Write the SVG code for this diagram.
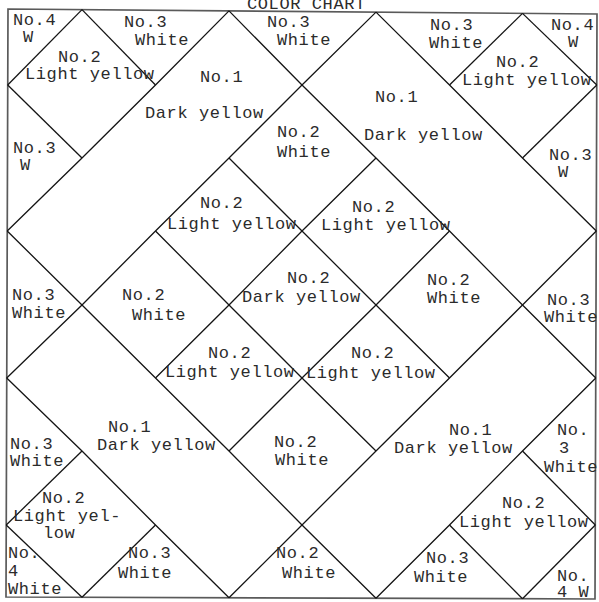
<svg xmlns="http://www.w3.org/2000/svg" width="599" height="602" viewBox="0 0 599 602">
<style>
.t{font-family:"Liberation Mono","Courier New",monospace;font-size:17px;letter-spacing:0.6px;fill:#2b2b2b}
.ln{fill:none;stroke:#141414;stroke-width:1.3;stroke-linejoin:round}
.fr{fill:none;stroke:#5a5a5a;stroke-width:1.7}
</style>
<rect width="599" height="602" fill="#ffffff"/>
<text class="t" x="247" y="9">COLOR CHART</text>
<polygon id="frame" class="fr" points="8,9 597,14 595,599 6,597"/>
<g id="connectors" class="ln">
<polyline points="82,9.6 7.7,85"/>
<polyline points="229,10.9 155.5,85 82,158 7.2,231"/>
<polyline points="376,12.1 302,85 229,158 155.5,231 82,305 6.7,378"/>
<polyline points="522.5,13.4 449.5,85"/>
<polyline points="376,158 302,231 229,305 155.5,378"/>
<polyline points="82,451 6.2,525"/>
<polyline points="596.8,85 522.5,158"/>
<polyline points="449.5,231 376,305 302,378 229,451"/>
<polyline points="155.5,525 82,597.3"/>
<polyline points="596.3,231 522.5,305 449.5,378 376,451 302,525 229,597.8"/>
<polyline points="595.8,378 522.5,451 449.5,525 376,598.2"/>
<polyline points="595.3,525 522.5,598.7"/>
<polyline points="522.5,13.4 596.8,85"/>
<polyline points="376,12.1 449.5,85 522.5,158 596.3,231"/>
<polyline points="229,10.9 302,85 376,158 449.5,231 522.5,305 595.8,378"/>
<polyline points="82,9.6 155.5,85"/>
<polyline points="229,158 302,231 376,305 449.5,378"/>
<polyline points="522.5,451 595.3,525"/>
<polyline points="7.7,85 82,158"/>
<polyline points="155.5,231 229,305 302,378 376,451"/>
<polyline points="449.5,525 522.5,598.7"/>
<polyline points="7.2,231 82,305 155.5,378 229,451 302,525 376,598.2"/>
<polyline points="6.7,378 82,451 155.5,525 229,597.8"/>
<polyline points="6.2,525 82,597.3"/>
</g>
<g id="n-tl-corner"><text class="t" x="13" y="25">No.4</text><text class="t" x="23" y="42">W</text></g>
<g id="n-top-1"><text class="t" x="124" y="27">No.3</text><text class="t" x="135" y="45">White</text></g>
<g id="n-top-2"><text class="t" x="267" y="27">No.3</text><text class="t" x="277" y="45">White</text></g>
<g id="n-top-3"><text class="t" x="430" y="30">No.3</text><text class="t" x="429" y="48">White</text></g>
<g id="n-tr-corner"><text class="t" x="551" y="30">No.4</text><text class="t" x="568" y="47">W</text></g>
<g id="n-ly-tl"><text class="t" x="58" y="62">No.2</text><text class="t" x="25" y="79">Light yellow</text></g>
<g id="n-dy-tl"><text class="t" x="200" y="82">No.1</text><text class="t" x="145" y="118">Dark yellow</text></g>
<g id="n-ly-tr"><text class="t" x="496" y="67">No.2</text><text class="t" x="462" y="85">Light yellow</text></g>
<g id="n-dy-tr"><text class="t" x="375" y="102">No.1</text><text class="t" x="364" y="140">Dark yellow</text></g>
<g id="n-left-1"><text class="t" x="13" y="153">No.3</text><text class="t" x="20" y="170">W</text></g>
<g id="n-right-1"><text class="t" x="549" y="160">No.3</text><text class="t" x="558" y="177">W</text></g>
<g id="n-w-top"><text class="t" x="277" y="137">No.2</text><text class="t" x="277" y="157">White</text></g>
<g id="n-ly-c1"><text class="t" x="200" y="208">No.2</text><text class="t" x="167" y="229">Light yellow</text></g>
<g id="n-ly-c2"><text class="t" x="352" y="212">No.2</text><text class="t" x="321" y="230">Light yellow</text></g>
<g id="n-left-2"><text class="t" x="12" y="300">No.3</text><text class="t" x="12" y="318">White</text></g>
<g id="n-w-left"><text class="t" x="122" y="300">No.2</text><text class="t" x="132" y="320">White</text></g>
<g id="n-dy-center"><text class="t" x="287" y="283">No.2</text><text class="t" x="242" y="302">Dark yellow</text></g>
<g id="n-w-right"><text class="t" x="427" y="285">No.2</text><text class="t" x="427" y="303">White</text></g>
<g id="n-right-2"><text class="t" x="547" y="305">No.3</text><text class="t" x="544" y="322">White</text></g>
<g id="n-ly-c3"><text class="t" x="208" y="358">No.2</text><text class="t" x="165" y="377">Light yellow</text></g>
<g id="n-ly-c4"><text class="t" x="351" y="358">No.2</text><text class="t" x="306" y="378">Light yellow</text></g>
<g id="n-dy-bl"><text class="t" x="108" y="432">No.1</text><text class="t" x="97" y="450">Dark yellow</text></g>
<g id="n-left-3"><text class="t" x="10" y="449">No.3</text><text class="t" x="10" y="466">White</text></g>
<g id="n-w-bottom"><text class="t" x="274" y="447">No.2</text><text class="t" x="275" y="465">White</text></g>
<g id="n-dy-br"><text class="t" x="449" y="435">No.1</text><text class="t" x="394" y="453">Dark yellow</text></g>
<g id="n-right-3"><text class="t" x="557" y="435">No.</text><text class="t" x="559" y="453">3</text><text class="t" x="544" y="472">White</text></g>
<g id="n-ly-bl"><text class="t" x="42" y="503">No.2</text><text class="t" x="13" y="521">Light yel-</text><text class="t" x="43" y="538">low</text></g>
<g id="n-ly-br"><text class="t" x="502" y="508">No.2</text><text class="t" x="459" y="527">Light yellow</text></g>
<g id="n-bl-corner"><text class="t" x="8" y="558">No.</text><text class="t" x="8" y="576">4</text><text class="t" x="8" y="594">White</text></g>
<g id="n-bottom-1"><text class="t" x="128" y="558">No.3</text><text class="t" x="118" y="578">White</text></g>
<g id="n-bottom-2"><text class="t" x="276" y="558">No.2</text><text class="t" x="282" y="578">White</text></g>
<g id="n-bottom-3"><text class="t" x="426" y="563">No.3</text><text class="t" x="414" y="582">White</text></g>
<g id="n-br-corner"><text class="t" x="557" y="581">No.</text><text class="t" x="557" y="597">4 W</text></g>
</svg>
